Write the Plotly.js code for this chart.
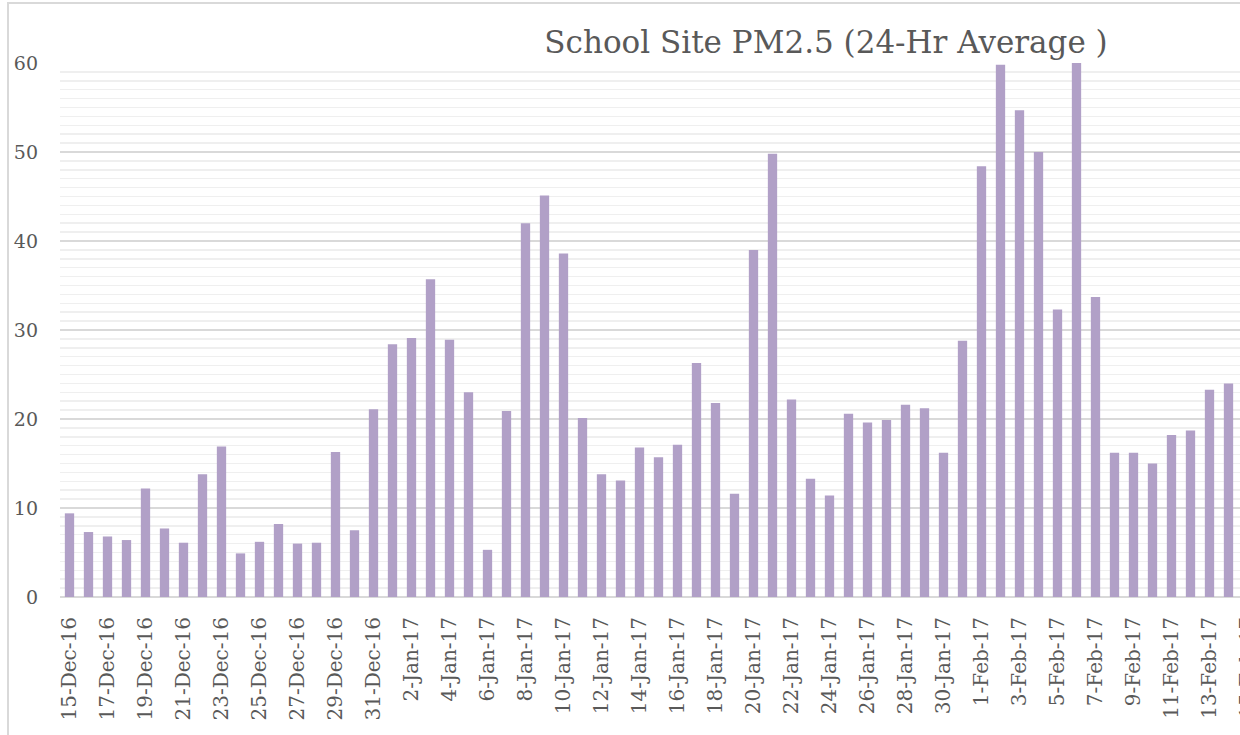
<!DOCTYPE html>
<html>
<head>
<meta charset="utf-8">
<script src="https://cdn.plot.ly/plotly-3.0.1.min.js"></script>
<style>
  html, body { margin: 0; padding: 0; width: 1240px; height: 735px; overflow: hidden; background: #ffffff; }
  #frame { position: absolute; left: 7px; top: 2px; border-left: 2px solid #d9d9d9; border-top: 2px solid #d9d9d9; width: 1400px; height: 800px; }
  #chart { width: 1400px; height: 800px; }
</style>
</head>
<body>
<div id="frame"><div id="chart"></div></div>
<script>
// Dates (one bar per day)
var dates = [
  '2016-12-15','2016-12-16','2016-12-17','2016-12-18','2016-12-19','2016-12-20','2016-12-21','2016-12-22',
  '2016-12-23','2016-12-24','2016-12-25','2016-12-26','2016-12-27','2016-12-28','2016-12-29','2016-12-30',
  '2016-12-31','2017-01-01','2017-01-02','2017-01-03','2017-01-04','2017-01-05','2017-01-06','2017-01-07',
  '2017-01-08','2017-01-09','2017-01-10','2017-01-11','2017-01-12','2017-01-13','2017-01-14','2017-01-15',
  '2017-01-16','2017-01-17','2017-01-18','2017-01-19','2017-01-20','2017-01-21','2017-01-22','2017-01-23',
  '2017-01-24','2017-01-25','2017-01-26','2017-01-27','2017-01-28','2017-01-29','2017-01-30','2017-01-31',
  '2017-02-01','2017-02-02','2017-02-03','2017-02-04','2017-02-05','2017-02-06','2017-02-07','2017-02-08',
  '2017-02-09','2017-02-10','2017-02-11','2017-02-12','2017-02-13','2017-02-14'
];

// PM2.5 24-hr average values
var pm25 = [
  9.4, 7.3, 6.8, 6.4, 12.2, 7.7, 6.1, 13.8,
  16.9, 4.9, 6.2, 8.2, 6.0, 6.1, 16.3, 7.5,
  21.1, 28.4, 29.1, 35.7, 28.9, 23.0, 5.3, 20.9,
  42.0, 45.1, 38.6, 20.1, 13.8, 13.1, 16.8, 15.7,
  17.1, 26.3, 21.8, 11.6, 39.0, 49.8, 22.2, 13.3,
  11.4, 20.6, 19.6, 19.9, 21.6, 21.2, 16.2, 28.8,
  48.4, 59.8, 54.7, 50.0, 32.3, 61.0, 33.7, 16.2,
  16.2, 15.0, 18.2, 18.7, 23.3, 24.0
];

var chartTitle = 'School Site PM2.5 (24-Hr Average )';

var trace = {
  type: 'bar',
  x: dates,
  y: pm25,
  marker: { color: '#b1a0c7', line: { width: 0 } },
  hoverinfo: 'x+y'
};

var layout = {
  width: 1400,
  height: 800,
  margin: { l: 51, r: 0, t: 59, b: 207 },
  paper_bgcolor: '#ffffff',
  plot_bgcolor: '#ffffff',
  showlegend: false,
  bargap: 0.51,
  title: {
    text: chartTitle,
    font: { family: 'DejaVu Serif', size: 31, color: '#595959' },
    xref: 'container', yref: 'container',
    x: 0.5836, xanchor: 'center',
    y: 0.952, yanchor: 'middle'
  },
  xaxis: {
    type: 'date',
    range: ['2016-12-14 12:00', '2017-02-23 12:00'],
    tickmode: 'linear',
    tick0: '2016-12-15',
    dtick: 2 * 86400000,
    tickformat: '%-d-%b-%y',
    tickangle: -90,
    ticks: '',
    ticklabelstandoff: 15,
    showgrid: false,
    showline: false,
    zeroline: false,
    tickfont: { family: 'DejaVu Serif', size: 20, color: '#595959' }
  },
  yaxis: {
    range: [0, 60],
    tickmode: 'linear',
    tick0: 0,
    dtick: 10,
    ticks: '',
    ticklabelstandoff: 21,
    showgrid: true,
    gridcolor: '#d9d9d9',
    gridwidth: 1.5,
    zeroline: true,
    zerolinecolor: '#d9d9d9',
    zerolinewidth: 2,
    showline: false,
    minor: { dtick: 1, showgrid: true, gridcolor: '#efefef', gridwidth: 1.5, ticks: '' },
    tickfont: { family: 'DejaVu Serif', size: 19, color: '#595959' }
  }
};

Plotly.newPlot('chart', [trace], layout, { displayModeBar: false, staticPlot: true });
</script>
</body>
</html>
